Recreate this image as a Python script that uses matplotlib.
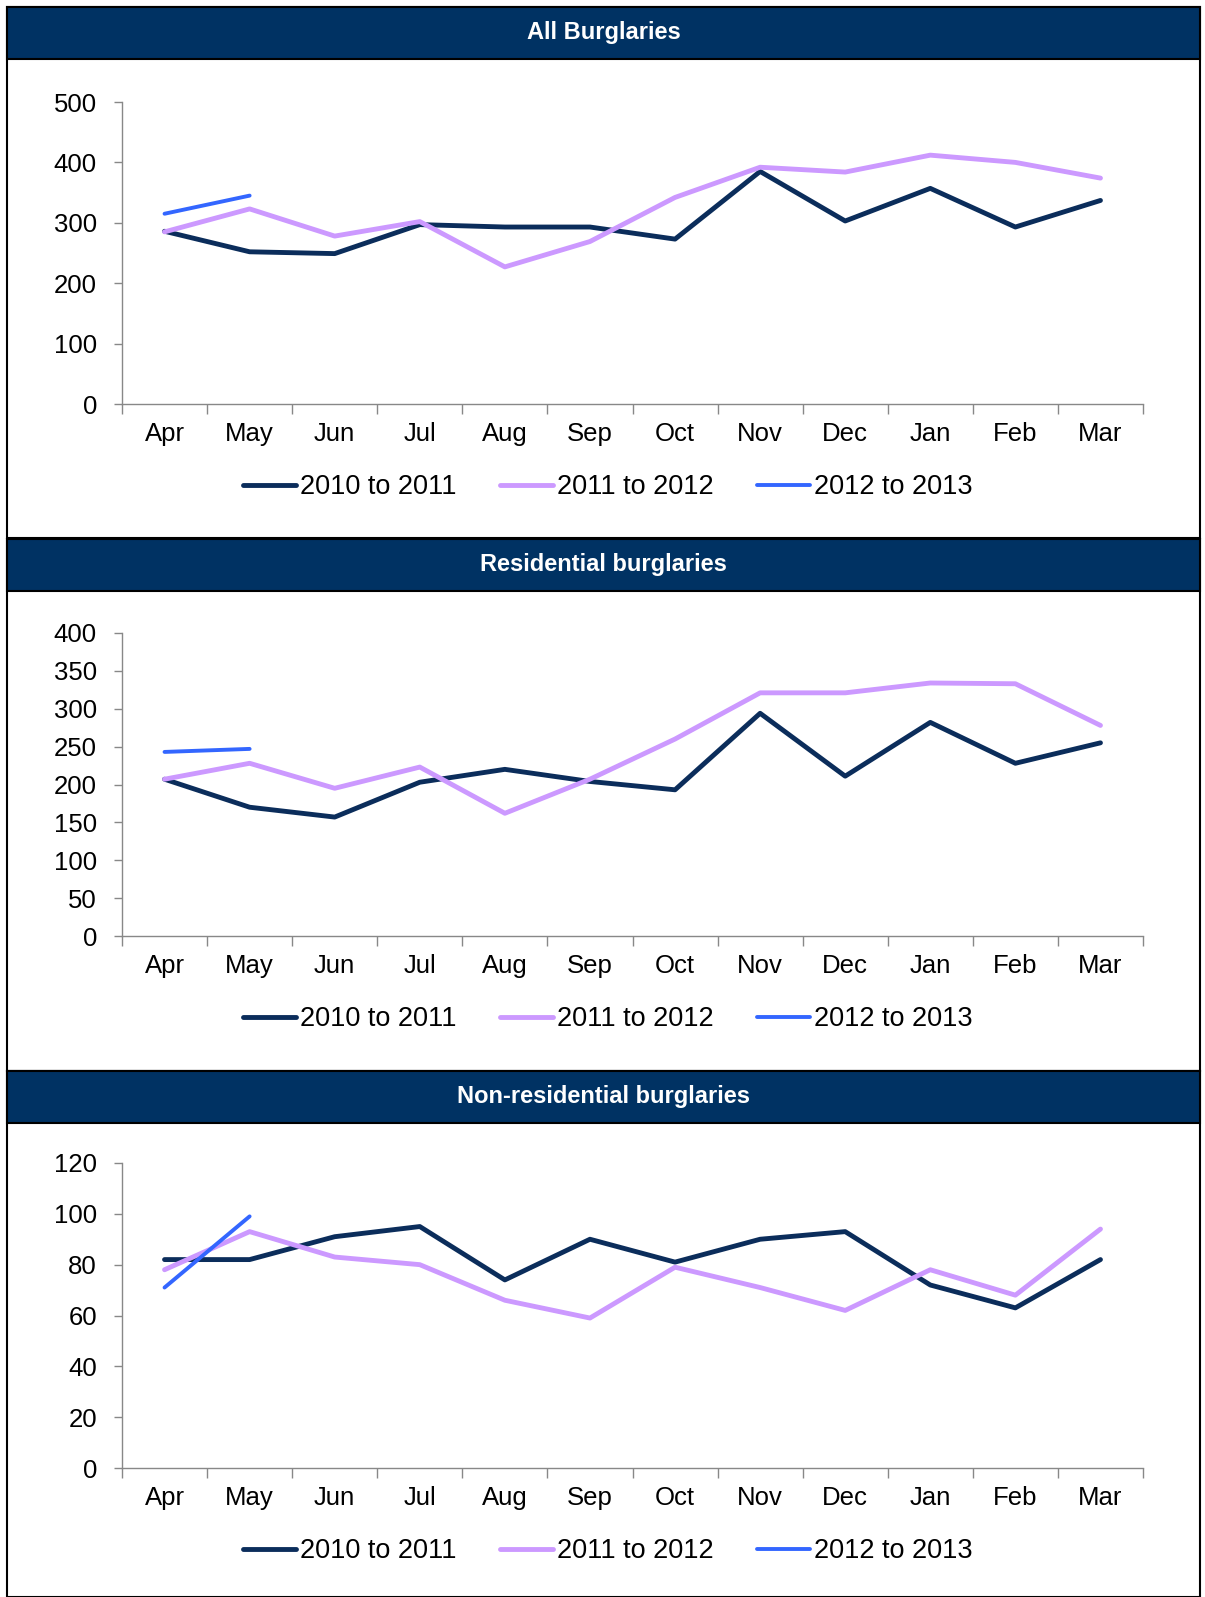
import numpy as np
import matplotlib.pyplot as plt
from matplotlib.patches import Rectangle

plt.rcParams["font.family"] = ["Liberation Sans", "DejaVu Sans"]

W, H = 1205, 1597

months = ["Apr", "May", "Jun", "Jul", "Aug", "Sep", "Oct", "Nov", "Dec", "Jan", "Feb", "Mar"]
series_names = ["2010 to 2011", "2011 to 2012", "2012 to 2013"]

# All burglaries
all_1011 = [286, 252, 249, 297, 293, 293, 273, 385, 303, 357, 293, 337]
all_1112 = [285, 323, 278, 302, 227, 269, 342, 392, 384, 412, 400, 374]
all_1213 = [315, 345]

# Residential burglaries
res_1011 = [207, 170, 157, 203, 220, 204, 193, 294, 211, 282, 228, 255]
res_1112 = [207, 228, 195, 223, 162, 207, 260, 321, 321, 334, 333, 278]
res_1213 = [243, 247]

# Non-residential burglaries
non_1011 = [82, 82, 91, 95, 74, 90, 81, 90, 93, 72, 63, 82]
non_1112 = [78, 93, 83, 80, 66, 59, 79, 71, 62, 78, 68, 94]
non_1213 = [71, 99]

colors = ["#0b2d5b", "#cc99ff", "#3366ff"]
widths = [3.5, 3.5, 2.8]
header_color = "#003263"


def rect(x0, y0, x1, y1):
    return [x0 / W, 1 - y1 / H, (x1 - x0) / W, (y1 - y0) / H]


panels = [
    ("All Burglaries", [all_1011, all_1112, all_1213], 500, 100, (7, 538), (102, 404)),
    ("Residential burglaries", [res_1011, res_1112, res_1213], 400, 50, (539, 1071), (633, 936)),
    ("Non-residential burglaries", [non_1011, non_1112, non_1213], 120, 20, (1071, 1597), (1163, 1468)),
]

fig = plt.figure(figsize=(W / 100, H / 100), dpi=100)

for title, data, ymax, ystep, (ptop, pbot), (atop, abot) in panels:
    # panel frame and header band
    fig.patches.append(Rectangle((7 / W, 1 - pbot / H), (1200 - 7) / W, (pbot - ptop) / H,
                                 transform=fig.transFigure, facecolor="white",
                                 edgecolor="black", linewidth=1.5, zorder=-2))
    fig.patches.append(Rectangle((7 / W, 1 - (ptop + 52) / H), (1200 - 7) / W, 52 / H,
                                 transform=fig.transFigure, facecolor=header_color,
                                 edgecolor="black", linewidth=1.5, zorder=-1))
    fig.text(0.5 * (7 + 1200) / W, 1 - (ptop + 26) / H, title, color="white",
             fontsize=17, fontweight="bold", ha="center", va="center")

    ax = fig.add_axes(rect(122, atop, 1143, abot))
    ax.patch.set_alpha(0)
    x = np.arange(len(months))
    for vals, c, lw, name in zip(data, colors, widths, series_names):
        ax.plot(x[:len(vals)], vals, color=c, linewidth=lw, label=name,
                solid_capstyle="round", solid_joinstyle="round")

    ax.set_xlim(-0.5, 11.5)
    ax.set_ylim(0, ymax)
    ax.set_yticks(np.arange(0, ymax + 1, ystep))
    ax.set_xticks(x)
    ax.set_xticklabels(months)
    ax.set_xticks(np.arange(-0.5, 12, 1), minor=True)
    ax.tick_params(axis="x", which="major", length=0, pad=13, labelsize=18.5)
    ax.tick_params(axis="x", which="minor", length=7, width=1, color="#888888")
    ax.tick_params(axis="y", length=6, width=1, color="#888888", labelsize=18.5, pad=12)
    for s in ["top", "right"]:
        ax.spines[s].set_visible(False)
    for s in ["left", "bottom"]:
        ax.spines[s].set_color("#888888")
        ax.spines[s].set_linewidth(1)

    ax.legend(loc="center", bbox_to_anchor=(608 / W, 1 - (abot + 83) / H),
              bbox_transform=fig.transFigure, ncol=3, frameon=False,
              fontsize=19.5, handlelength=1.95, handletextpad=0.15,
              columnspacing=1.6)

fig.savefig("out.png", dpi=100)
